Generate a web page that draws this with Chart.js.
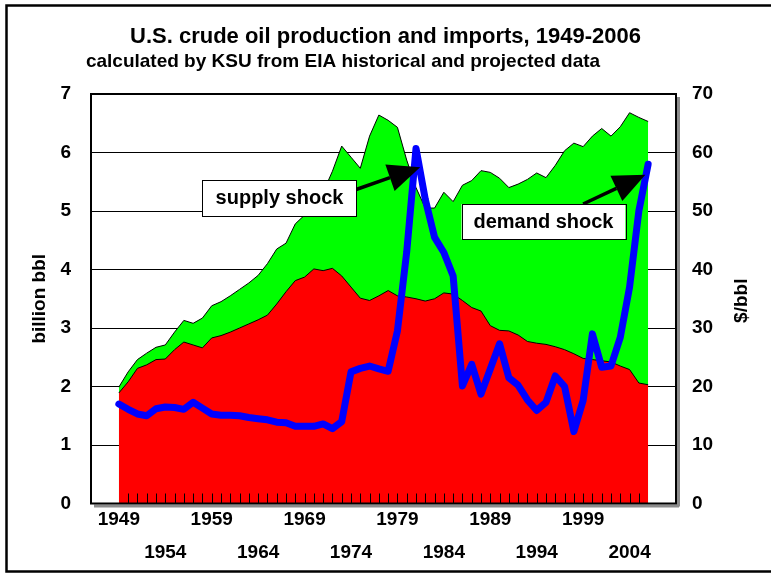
<!DOCTYPE html>
<html>
<head>
<meta charset="utf-8">
<script src="https://cdn.jsdelivr.net/npm/chart.js@4/dist/chart.umd.min.js"></script>
<style>
html,body{margin:0;padding:0;background:#fff;}
#wrap{width:771px;height:574px;position:relative;}
</style>
</head>
<body>
<div id="wrap"><canvas id="c" width="771" height="574"></canvas></div>
<script>
// ---------- data ----------
const years = [1949,1950,1951,1952,1953,1954,1955,1956,1957,1958,
               1959,1960,1961,1962,1963,1964,1965,1966,1967,1968,
               1969,1970,1971,1972,1973,1974,1975,1976,1977,1978,
               1979,1980,1981,1982,1983,1984,1985,1986,1987,1988,
               1989,1990,1991,1992,1993,1994,1995,1996,1997,1998,
               1999,2000,2001,2002,2003,2004,2005,2006];
// production + imports, billion bbl (top of green area)
const totalSupply = [1.99,2.25,2.46,2.57,2.67,2.71,2.93,3.13,3.08,3.17,
                     3.38,3.45,3.55,3.66,3.77,3.90,4.10,4.35,4.45,4.78,
                     4.93,5.12,5.32,5.68,6.11,5.92,5.73,6.28,6.64,6.55,
                     6.43,5.87,5.40,5.05,5.05,5.32,5.16,5.44,5.52,5.69,
                     5.66,5.56,5.40,5.46,5.54,5.65,5.57,5.78,6.03,6.16,
                     6.10,6.28,6.41,6.28,6.44,6.68,6.60,6.53];
// domestic production, billion bbl (top of red area)
const production = [1.89,2.08,2.31,2.37,2.46,2.47,2.63,2.76,2.71,2.66,
                    2.83,2.87,2.93,3.00,3.07,3.14,3.22,3.41,3.62,3.81,
                    3.87,4.01,3.98,4.02,3.89,3.70,3.51,3.47,3.55,3.64,
                    3.55,3.53,3.50,3.46,3.50,3.60,3.58,3.47,3.35,3.29,
                    3.04,2.96,2.95,2.88,2.77,2.74,2.72,2.68,2.63,2.56,
                    2.48,2.46,2.44,2.42,2.35,2.29,2.06,2.03];
// crude oil price, $/bbl (blue line, right axis)
const price = [17.0,16.1,15.3,15.0,16.2,16.5,16.4,16.1,17.3,16.3,
               15.3,15.1,15.1,15.0,14.7,14.5,14.3,13.9,13.8,13.2,
               13.2,13.2,13.6,12.8,14.0,22.5,23.1,23.5,23.0,22.6,
               29.5,43.0,60.7,52.0,45.5,42.9,38.9,20.1,23.8,18.7,
               23.0,27.3,21.5,20.2,17.7,15.9,17.3,21.8,20.0,12.3,
               17.6,29.0,23.3,23.5,28.4,37.0,50.0,58.0];
const tickYears = [1949,1954,1959,1964,1969,1974,1979,1984,1989,1994,1999,2004];
const leftTicks = [0,1,2,3,4,5,6,7];
const rightTicks = [0,10,20,30,40,50,60,70];

const titleText = 'U.S. crude oil production and imports, 1949-2006';
const subtitleText = 'calculated by KSU from EIA historical and projected data';
const leftAxisTitle = 'billion bbl';
const rightAxisTitle = '$/bbl';

// annotation call-outs, anchored in data units (year, $/bbl)
const callouts = [
  {text:'supply shock', box:[1958.0, 1974.6, 55.3, 49.15], from:[1974.25, 53.5], to:[1981.45, 57.5]},
  {text:'demand shock', box:[1985.9, 2003.55, 51.2, 45.15], from:[1999.0, 51.2], to:[2005.7, 56.2]}
];

// ---------- chart ----------
const FONT = "'Liberation Sans', Arial, sans-serif";
Chart.defaults.font.family = FONT;
Chart.defaults.color = '#000';

const pts = arr => years.map((y, i) => ({x: y, y: arr[i]}));

const decorPlugin = {
  id: 'decor',
  beforeDraw(chart) {
    const ctx = chart.ctx;
    ctx.save();
    ctx.fillStyle = '#fff';
    ctx.fillRect(0, 0, chart.width, chart.height);
    ctx.restore();
  },
  afterDatasetsDraw(chart) {
    const {ctx, chartArea: a, scales} = chart;
    ctx.save();
    // year tick marks along the bottom, inside the plot
    ctx.strokeStyle = '#000';
    ctx.lineWidth = 1;
    years.slice(1, -1).forEach(yr => {
      const x = Math.round(scales.x.getPixelForValue(yr)) + 0.5;
      ctx.beginPath();
      ctx.moveTo(x, a.bottom);
      ctx.lineTo(x, a.bottom - 10);
      ctx.stroke();
    });
    // plot area shadow
    ctx.fillStyle = '#8c8c8c';
    ctx.fillRect(a.left + 3, a.bottom + 1, a.right - a.left, 3);
    ctx.fillRect(a.right + 1, a.top + 3, 3, a.bottom - a.top);
    // plot area border
    ctx.strokeStyle = '#000';
    ctx.lineWidth = 2;
    ctx.strokeRect(a.left, a.top, a.right - a.left, a.bottom - a.top);

    // call-outs
    const xs = scales.x, ys = scales.y1;
    ctx.font = 'bold 20px ' + FONT;
    callouts.forEach(c => {
      const fx = xs.getPixelForValue(c.from[0]), fy = ys.getPixelForValue(c.from[1]);
      const tx = xs.getPixelForValue(c.to[0]), ty = ys.getPixelForValue(c.to[1]);
      const ang = Math.atan2(ty - fy, tx - fx);
      const headLen = 32, headHalf = 14;
      const bx = tx - headLen * Math.cos(ang), by = ty - headLen * Math.sin(ang);
      ctx.strokeStyle = '#000';
      ctx.lineWidth = 3.5;
      ctx.beginPath();
      ctx.moveTo(fx, fy);
      ctx.lineTo(bx, by);
      ctx.stroke();
      ctx.fillStyle = '#000';
      ctx.beginPath();
      ctx.moveTo(tx, ty);
      ctx.lineTo(bx + headHalf * Math.sin(ang), by - headHalf * Math.cos(ang));
      ctx.lineTo(bx - headHalf * Math.sin(ang), by + headHalf * Math.cos(ang));
      ctx.closePath();
      ctx.fill();
      const x1 = xs.getPixelForValue(c.box[0]), x2 = xs.getPixelForValue(c.box[1]);
      const y1 = ys.getPixelForValue(c.box[2]), y2 = ys.getPixelForValue(c.box[3]);
      ctx.fillStyle = '#fff';
      ctx.fillRect(x1, y1, x2 - x1, y2 - y1);
      ctx.lineWidth = 1;
      ctx.strokeRect(Math.round(x1) + 0.5, Math.round(y1) + 0.5, Math.round(x2 - x1), Math.round(y2 - y1));
      ctx.fillStyle = '#000';
      ctx.textAlign = 'center';
      ctx.textBaseline = 'middle';
      ctx.fillText(c.text, (x1 + x2) / 2, (y1 + y2) / 2 + 1);
    });
    ctx.restore();
  },
  afterDraw(chart) {
    const {ctx, chartArea: a, scales} = chart;
    ctx.save();
    // subtitle
    ctx.fillStyle = '#000';
    ctx.font = 'bold 19px ' + FONT;
    ctx.textAlign = 'center';
    ctx.textBaseline = 'middle';
    ctx.fillText(subtitleText, 343, 62);
    // right axis title, reading upward
    ctx.font = 'bold 19px ' + FONT;
    ctx.translate(scales.y1.right - 29, (a.top + a.bottom) / 2 + 2);
    ctx.rotate(-Math.PI / 2);
    ctx.fillText(rightAxisTitle, 0, 0);
    ctx.restore();
    // outer frame
    ctx.save();
    ctx.strokeStyle = '#000';
    ctx.lineWidth = 2.5;
    ctx.strokeRect(6.5, 5.5, chart.width + 20, 566);
    ctx.restore();
  }
};

new Chart(document.getElementById('c'), {
  type: 'line',
  data: {
    datasets: [
      {label: 'Price', data: pts(price), yAxisID: 'y1',
       borderColor: '#0000FF', borderWidth: 7, pointRadius: 0, fill: false, tension: 0,
       borderJoinStyle: 'round', borderCapStyle: 'round'},
      {label: 'Production', data: pts(production), yAxisID: 'y',
       borderColor: '#000', borderWidth: 1, backgroundColor: '#FF0000', fill: 'origin', pointRadius: 0, tension: 0},
      {label: 'Production + imports', data: pts(totalSupply), yAxisID: 'y',
       borderColor: '#000', borderWidth: 1, backgroundColor: '#00FF00', fill: 'origin', pointRadius: 0, tension: 0}
    ]
  },
  options: {
    responsive: false,
    devicePixelRatio: 1,
    animation: false,
    layout: {padding: 0},
    plugins: {
      legend: {display: false},
      tooltip: {enabled: false},
      title: {display: true, text: titleText, color: '#000',
              font: {size: 22, weight: 'bold', family: FONT, lineHeight: 1.2},
              padding: {top: 23.8, bottom: 43.8}}
    },
    scales: {
      x: {
        type: 'linear', position: 'bottom', min: 1946, max: 2009,
        afterBuildTicks: s => { s.ticks = tickYears.map(v => ({value: v})); },
        afterFit: s => { s.height = 70.5; },
        grid: {display: false, drawTicks: false},
        border: {display: false},
        ticks: {
          autoSkip: false, maxRotation: 0, padding: 0,
          font: {size: 19, weight: 'bold', lineHeight: 33 / 19},
          color: '#000',
          callback: (v, i) => (i % 2 === 0 ? [String(v), ''] : ['', String(v)])
        }
      },
      y: {
        type: 'linear', position: 'left', min: 0, max: 7,
        afterBuildTicks: s => { s.ticks = leftTicks.map(v => ({value: v})); },
        afterFit: s => { s.width = 91; },
        grid: {color: '#000', lineWidth: 1, drawTicks: false},
        border: {display: false},
        ticks: {padding: 20, font: {size: 19, weight: 'bold'}, color: '#000'},
        title: {display: true, text: leftAxisTitle, color: '#000',
                font: {size: 19, weight: 'bold', lineHeight: 1.2}, padding: {top: 28.6, bottom: 0}}
      },
      y1: {
        type: 'linear', position: 'right', min: 0, max: 70,
        afterBuildTicks: s => { s.ticks = rightTicks.map(v => ({value: v})); },
        afterFit: s => { s.width = 95; },
        grid: {drawOnChartArea: false, drawTicks: false},
        border: {display: false},
        ticks: {padding: 16, font: {size: 19, weight: 'bold'}, color: '#000'}
      }
    }
  },
  plugins: [decorPlugin]
});
</script>
</body>
</html>
